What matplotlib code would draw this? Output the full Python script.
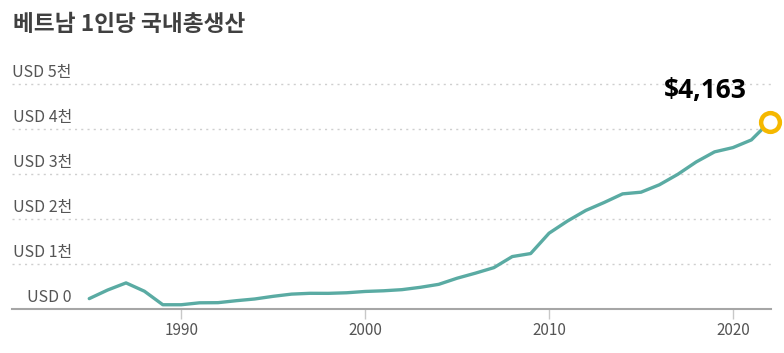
import matplotlib
matplotlib.use('Agg')
import matplotlib.pyplot as plt
import matplotlib.transforms as mtransforms

plt.rcParams['font.family'] = ['Noto Sans CJK KR', 'DejaVu Sans']

# Vietnam GDP per capita, current USD
years = list(range(1985, 2023))
gdp = [231, 422, 580, 395, 95, 95, 138, 141, 185, 223,
       282, 331, 349, 348, 361, 390, 405, 430, 482, 548,
       684, 797, 919, 1165, 1232, 1684, 1954, 2190, 2367, 2558,
       2595, 2760, 2992, 3267, 3491, 3586, 3756, 4163]
ytick_vals = [0, 1000, 2000, 3000, 4000, 5000]
ytick_labels = ['USD 0', 'USD 1천', 'USD 2천', 'USD 3천', 'USD 4천', 'USD 5천']
xtick_vals = [1990, 2000, 2010, 2020]
title = '베트남 1인당 국내총생산'
last_label = '\\$4,163'

fig = plt.figure(figsize=(7.84, 3.53), dpi=100)
ax = fig.add_axes([0.0153, 0.1246, 0.9677, 0.7014])

ax.plot(years, gdp, color='#5aaba3', lw=2.4, solid_capstyle='round', zorder=3)
ax.plot(years[-1], gdp[-1], 'o', ms=13.5, mfc='white', mec='#f5b800', mew=3.2,
        clip_on=False, zorder=4)
ax.text(years[-1] - 3.5, gdp[-1] + 680, last_label, fontsize=19, fontweight='bold',
        color='black', ha='center', va='center', family=['Open Sans', 'DejaVu Sans'])

ax.set_xlim(1980.8, 2022.05)
ax.set_ylim(0, 5500)

for v in ytick_vals[1:]:
    ax.axhline(v, color='#cfcfcf', lw=1, ls=(0, (1.5, 3)), zorder=1)

trans = mtransforms.blended_transform_factory(ax.transAxes, ax.transData)
for v, lab in zip(ytick_vals, ytick_labels):
    ax.text(0.079, v + 250, lab, transform=trans, ha='right', va='center',
            fontsize=11.5, color='#555555')

ax.set_yticks([])
ax.set_xticks(xtick_vals)
ax.set_xticklabels([str(x) for x in xtick_vals])
ax.tick_params(axis='x', length=7, width=1, color='#c8c8c8', labelsize=11,
               labelcolor='#555555', pad=2)
for s in ['top', 'right', 'left']:
    ax.spines[s].set_visible(False)
ax.spines['bottom'].set_color('#a6a6a6')
ax.spines['bottom'].set_linewidth(1.5)

fig.text(0.017, 0.93, title, fontsize=16.3, fontweight='bold', color='#404040',
         ha='left', va='center')

fig.savefig('out.png', dpi=100)
